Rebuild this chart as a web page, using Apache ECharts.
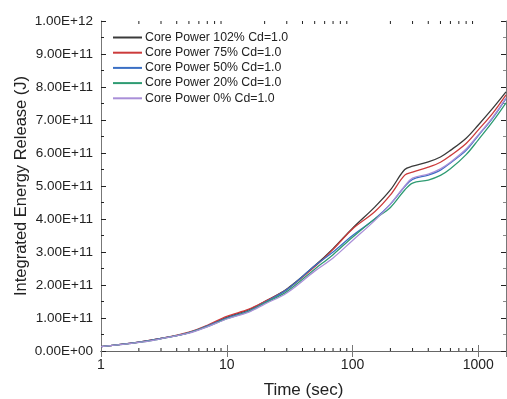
<!DOCTYPE html>
<html><head><meta charset="utf-8">
<script src="https://cdn.jsdelivr.net/npm/echarts@6/dist/echarts.min.js"></script>
<style>html,body{margin:0;padding:0;background:#fff}#c{width:507px;height:399px}</style>
</head><body><div id="c"></div>
<script>
const times = [1,2,3,5,7,10,15,20,30,50,70,100,150,200,260,300,400,500,600,800,1000,1300,1660];
const seriesNames = ['Core Power 102% Cd=1.0','Core Power 75% Cd=1.0','Core Power 50% Cd=1.0','Core Power 20% Cd=1.0','Core Power 0% Cd=1.0'];
// values in units of 1E+11 J
const p102 = [0.13,0.27,0.38,0.56,0.76,1.02,1.25,1.50,1.88,2.58,3.10,3.72,4.36,4.88,5.50,5.60,5.73,5.88,6.08,6.45,6.85,7.35,7.85];
const p75  = [0.13,0.27,0.38,0.57,0.78,1.05,1.27,1.50,1.86,2.55,3.08,3.70,4.22,4.73,5.33,5.42,5.57,5.72,5.92,6.29,6.70,7.20,7.76];
const p50  = [0.13,0.27,0.38,0.56,0.76,1.00,1.22,1.47,1.86,2.58,3.00,3.50,4.00,4.45,4.98,5.20,5.33,5.48,5.70,6.08,6.53,7.06,7.65];
const p20  = [0.13,0.26,0.37,0.55,0.74,0.98,1.20,1.45,1.80,2.48,2.92,3.45,4.00,4.35,4.88,5.09,5.18,5.32,5.52,5.95,6.40,6.95,7.52];
const p0   = [0.13,0.26,0.37,0.54,0.73,0.97,1.18,1.42,1.76,2.42,2.82,3.35,3.95,4.45,5.00,5.24,5.36,5.52,5.72,6.12,6.55,7.08,7.67];
const colors = ['#3a3a3a','#cc3b3b','#3a6fc4','#2e9b72','#a98fd8'];
const xTicks = [1,10,100,1000];
const xMinorTicks = [2,3,4,5,6,7,8,9,20,30,40,50,60,70,80,90,200,300,400,500,600,700,800,900];
const yMax = 1e12, yStep = 1e11, xMin = 1, xMax = 1660;

function fmtE(v){
  if (v === 0) return '0.00E+00';
  const e = Math.floor(Math.log10(v) + 1e-9);
  const m = v / Math.pow(10, e);
  return m.toFixed(2) + 'E+' + (e < 10 ? '0' + e : e);
}
const allVals = [p102,p75,p50,p20,p0];
const font = 'Liberation Sans, Arial, sans-serif';
const chart = echarts.init(document.getElementById('c'), null, {renderer:'canvas'});
const series = allVals.map((arr,i)=>({
  name: seriesNames[i], type:'line', xAxisIndex:0, yAxisIndex:0,
  data: times.map((t,j)=>[t, arr[j]*1e11]),
  symbol:'none', smooth:0.35, lineStyle:{width:1.3, color:colors[i]}, itemStyle:{color:colors[i]}, z: 3 + i
}));
series.push({
  type:'custom', xAxisIndex:0, yAxisIndex:0, silent:true, clip:false,
  data: xMinorTicks.map(t=>[t,0]),
  renderItem: function(params, api){
    const t = api.value(0);
    const b = api.coord([t, 0]);
    const top = api.coord([t, yMax]);
    return {type:'group', children:[
      {type:'line', shape:{x1:b[0],y1:b[1],x2:b[0],y2:b[1]-3}, style:{stroke:'#222', lineWidth:1}},
      {type:'line', shape:{x1:top[0],y1:top[1],x2:top[0],y2:top[1]+3}, style:{stroke:'#222', lineWidth:1}}
    ]};
  }
});
const axisBaseX = {
  type:'log', logBase:10, min:xMin, max:xMax,
  splitLine:{show:false}
};
chart.setOption({
  animation:false,
  backgroundColor:'#fff',
  grid:{left:101, right:1, top:21, bottom:48, outerBoundsMode:'none', containLabel:false},
  legend:{
    data: seriesNames.map((n,i)=>({name:n, icon:'rect', itemStyle:{color:colors[i]}})),
    left:113, top:31, orient:'vertical', padding:0,
    itemWidth:29, itemHeight:2, itemGap:2.2,
    textStyle:{fontFamily:font, fontSize:12.3, lineHeight:13, color:'#222', padding:[0,0,0,-2]}
  },
  xAxis:[
    Object.assign({}, axisBaseX, {
      position:'bottom',
      name:'Time (sec)', nameLocation:'middle', nameGap:31, nameMoveOverlap:false,
      nameTextStyle:{fontFamily:font, fontSize:17, color:'#222'},
      axisLine:{show:true, lineStyle:{color:'#222', width:1}},
      axisTick:{show:true, inside:true, length:6, lineStyle:{color:'#777'}},
      axisLabel:{fontFamily:font, fontSize:14, color:'#222', margin:7, showMaxLabel:false,
        formatter: v => xTicks.indexOf(Math.round(v)) >= 0 ? String(Math.round(v)) : ''}
    }),
    Object.assign({}, axisBaseX, {
      position:'top',
      axisLine:{show:true, lineStyle:{color:'#666', width:1}},
      axisTick:{show:true, inside:true, length:6, lineStyle:{color:'#777'}},
      axisLabel:{show:false}
    })
  ],
  yAxis:[
    {
      type:'value', min:0, max:yMax, interval:yStep, position:'left',
      name:'Integrated Energy Release (J)', nameLocation:'middle', nameGap:71, nameMoveOverlap:false,
      nameTextStyle:{fontFamily:font, fontSize:16.5, color:'#222'},
      axisLine:{show:true, lineStyle:{color:'#777', width:1}},
      axisTick:{show:true, inside:true, length:5, lineStyle:{color:'#222'}},
      minorTick:{show:true, splitNumber:2, length:3, lineStyle:{color:'#222'}},
      splitLine:{show:false},
      axisLabel:{fontFamily:font, fontSize:13.5, color:'#222', margin:8, formatter: fmtE}
    },
    {
      type:'value', min:0, max:yMax, interval:yStep, position:'right',
      axisLine:{show:true, lineStyle:{color:'#777', width:1}},
      axisTick:{show:true, inside:true, length:5, lineStyle:{color:'#222'}},
      minorTick:{show:true, splitNumber:2, length:3, lineStyle:{color:'#888'}},
      splitLine:{show:false},
      axisLabel:{show:false}
    }
  ],
  series: series
});
</script>
</body></html>
